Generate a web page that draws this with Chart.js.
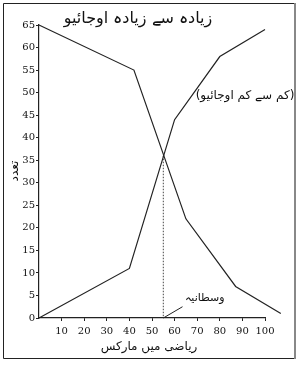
<!DOCTYPE html>
<html><head><meta charset="utf-8">
<script src="https://cdn.jsdelivr.net/npm/chart.js@4.4.1/dist/chart.umd.min.js"></script>
<style>html,body{margin:0;padding:0;background:#fff;}#wrap{width:303px;height:365px;position:relative;}</style>
</head><body><div id="wrap"><canvas id="c" width="303" height="365"></canvas></div>
<script>
// Data
const lessX = [0, 40, 60, 80, 100];
const lessY = [0, 11, 44, 58, 64];
const moreX = [0, 42, 65, 87, 107];
const moreY = [65, 55, 22, 7, 1];
const medianX = 55;
const medianY = 36;
const pointerX = [55, 63.5];
const pointerY = [0, 2.5];
const xTicks = [10, 20, 30, 40, 50, 60, 70, 80, 90, 100];
const yTicks = [0, 5, 10, 15, 20, 25, 30, 35, 40, 45, 50, 55, 60, 65];
const labelMore = 'زیادہ سے زیادہ اوجائیو';
const labelLess = '(کم سے کم اوجائیو)';
const labelMedian = 'وسطانیہ';
const xTitle = 'ریاضی میں مارکس';
const yTitle = 'تعدد';

const pts = (xs, ys) => xs.map((x, i) => ({x, y: ys[i]}));
const urdu = '"DejaVu Sans", sans-serif';
const rtl = s => '\u202B' + s + '\u202C';

const overlay = {
  id: 'overlay',
  beforeDraw(chart) {
    const c = chart.ctx;
    c.save();
    c.fillStyle = '#fff';
    c.fillRect(0, 0, chart.width, chart.height);
    c.restore();
  },
  afterDraw(chart) {
    const c = chart.ctx;
    c.save();
    // frame
    c.strokeStyle = '#222'; c.lineWidth = 1;
    c.beginPath();
    c.moveTo(294, 3.5); c.lineTo(3.5, 3.5); c.lineTo(3.5, 358.5); c.lineTo(294, 358.5);
    c.stroke();
    c.strokeStyle = '#888'; c.lineWidth = 2;
    c.beginPath(); c.moveTo(295, 3); c.lineTo(295, 359); c.stroke();
    // texts
    c.fillStyle = '#111';
    c.textAlign = 'center'; c.textBaseline = 'middle';
    c.direction = 'rtl';
    c.font = '16px ' + urdu;
    c.fillText(rtl(labelMore), 138, 19);
    c.font = '12px ' + urdu;
    c.fillText(rtl(labelLess), 245, 96);
    c.font = '11px ' + urdu;
    c.fillText(rtl(labelMedian), 205, 298);
    c.font = '12px ' + urdu;
    c.fillText(rtl(xTitle), 149, 347);
    c.save();
    c.translate(15, 171); c.rotate(-Math.PI / 2);
    c.font = '12px ' + urdu;
    c.fillText(rtl(yTitle), 0, 0);
    c.restore();
    c.restore();
  }
};

new Chart(document.getElementById('c'), {
  type: 'line',
  data: {
    datasets: [
      {data: pts(lessX, lessY), borderColor: '#222', borderWidth: 1.2, pointRadius: 0, tension: 0, clip: false},
      {data: pts(moreX, moreY), borderColor: '#222', borderWidth: 1.2, pointRadius: 0, tension: 0, clip: false},
      {data: pts([medianX, medianX], [medianY, 0]), borderColor: '#444', borderWidth: 1, borderDash: [1.5, 1.5], pointRadius: 0, clip: false},
      {data: pts(pointerX, pointerY), borderColor: '#222', borderWidth: 1, pointRadius: 0, clip: false}
    ]
  },
  options: {
    responsive: false,
    animation: false,
    events: [],
    layout: {padding: {top: 25, right: 38, left: 0, bottom: 0}},
    plugins: {legend: {display: false}, tooltip: {enabled: false}},
    scales: {
      x: {
        type: 'linear', min: 0, max: 100,
        afterFit: s => { s.height = 47; },
        afterBuildTicks: s => { s.ticks = xTicks.map(v => ({value: v})); },
        grid: {display: true, drawOnChartArea: false, drawTicks: true, tickLength: 3, color: '#222'},
        border: {display: true, color: '#222', width: 1.2},
        ticks: {color: '#111', font: {family: '"DejaVu Serif", serif', size: 10}, padding: 4, maxRotation: 0, autoSkip: false}
      },
      y: {
        type: 'linear', min: 0, max: 65,
        afterFit: s => { s.width = 39; },
        afterBuildTicks: s => { s.ticks = yTicks.map(v => ({value: v})); },
        grid: {display: true, drawOnChartArea: false, drawTicks: true, tickLength: 3, color: '#222'},
        border: {display: true, color: '#222', width: 1.2},
        ticks: {color: '#111', font: {family: '"DejaVu Serif", serif', size: 10}, padding: 1, autoSkip: false}
      }
    }
  },
  plugins: [overlay]
});
</script></body></html>
